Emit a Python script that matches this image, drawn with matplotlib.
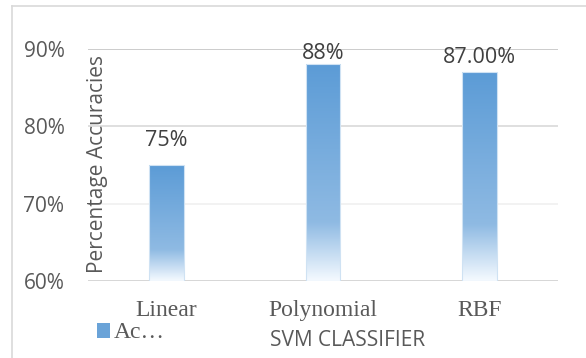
import matplotlib
matplotlib.use("Agg")
import matplotlib.pyplot as plt
import numpy as np
from matplotlib.patches import Patch
from matplotlib.colors import LinearSegmentedColormap

kernels = ["Linear", "Polynomial", "RBF"]
accuracy = [0.75, 0.88, 0.87]
value_labels = ["75%", "88%", "87.00%"]
y_ticks = [0.6, 0.7, 0.8, 0.9]
y_tick_labels = ["60%", "70%", "80%", "90%"]

W, H = 586, 358
fig = plt.figure(figsize=(W / 100, H / 100), dpi=100)
fig.patch.set_facecolor("white")

# chart border (left and top edges visible)
fig.add_artist(plt.Line2D([12 / W, 12 / W], [0, 1 - 6 / H], transform=fig.transFigure,
                          color="#d9d9d9", lw=1.2))
fig.add_artist(plt.Line2D([12 / W, 1], [1 - 6 / H, 1 - 6 / H], transform=fig.transFigure,
                          color="#d9d9d9", lw=1.2))

ax = fig.add_axes([88 / W, (H - 281) / H, 470 / W, (281 - 49) / H])
ax.set_xlim(-0.5, 2.5)
ax.set_ylim(0.6, 0.9)
for s in ax.spines.values():
    s.set_visible(False)

grid_colors = {0.6: "#d0d0d0", 0.7: "#f0f0f0", 0.8: "#d9d9d9", 0.9: "#c4c4c4"}
for t in y_ticks:
    ax.axhline(t, color=grid_colors[t], lw=1.2, zorder=0)

# vertical gradient: pale at the bottom, solid blue at the top
cmap = LinearSegmentedColormap.from_list(
    "bar_grad",
    [(0.0, (0.96, 0.98, 1.0)), (0.27, (0.56, 0.73, 0.89)), (1.0, (0.36, 0.61, 0.84))])
grad = np.linspace(0, 1, 256).reshape(-1, 1)

x = np.arange(len(kernels))
width = 0.22
bars = ax.bar(x, [a - 0.6 for a in accuracy], width, bottom=0.6,
              facecolor="none", edgecolor="#cfe2f3", lw=0.8, zorder=3)
for b, xi, a in zip(bars, x, accuracy):
    im = ax.imshow(grad, cmap=cmap, origin="lower", aspect="auto",
                   extent=[xi - width / 2, xi + width / 2, 0.6, a], zorder=2)
    im.set_clip_path(b)

# label offsets above the bar tops, in points
label_pad = [10, 0, 3]
for xi, a, lab, p in zip(x, accuracy, value_labels, label_pad):
    ax.annotate(lab, (xi, a), xytext=(0, p), textcoords="offset points",
                ha="center", va="bottom", fontsize=15.5, family="Open Sans",
                color="#404040", annotation_clip=False)

ax.set_yticks(y_ticks)
ax.set_yticklabels(y_tick_labels, family="Open Sans", fontsize=15, color="#595959")
ax.set_xticks(x)
ax.set_xticklabels(kernels, family="Liberation Serif", fontsize=17, color="#595959")
ax.tick_params(length=0)
ax.tick_params(axis="y", pad=17)
ax.tick_params(axis="x", pad=14)

fig.text(98 / W, 1 - 164 / H, "Percentage Accuracies", rotation=90, ha="center",
         va="center", family="Open Sans", fontsize=15, color="#595959")
fig.text(348 / W, 1 - 340 / H, "SVM CLASSIFIER", ha="center", va="center",
         family="Open Sans", fontsize=15, color="#595959")

fig.legend(handles=[Patch(facecolor="#6aa3d8", edgecolor="none")], labels=["Ac…"],
           loc="center left", bbox_to_anchor=(76 / W, 1 - 333 / H), frameon=False,
           handlelength=0.55, handleheight=0.6, handletextpad=0.15,
           prop={"family": "Liberation Serif", "size": 17}, labelcolor="#595959")

fig.savefig("out.png", dpi=100)
